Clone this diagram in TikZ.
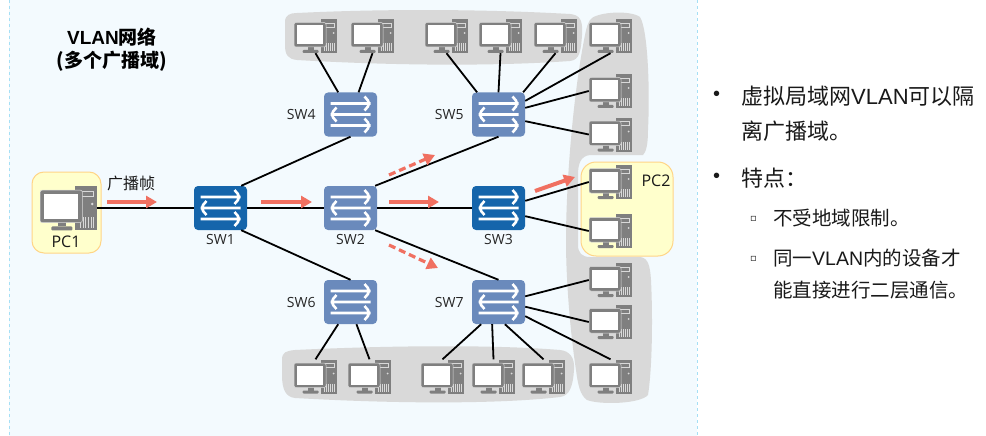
\documentclass[tikz,border=0pt]{standalone}
\usepackage{fontspec}
\setmainfont{Noto Sans CJK SC}
\newfontfamily\symfont{DejaVu Sans}
\newfontfamily\lsf{Liberation Sans}
\newfontfamily\osf{Open Sans}
\usetikzlibrary{positioning,arrows.meta}
\definecolor{panelbg}{HTML}{F3FAFE}
\definecolor{paneledge}{HTML}{A5DFF5}
\definecolor{blobgray}{HTML}{D9D9D9}
\definecolor{pcgray}{HTML}{7F7F7F}
\definecolor{swdark}{HTML}{1565AB}
\definecolor{swlight}{HTML}{6A8ABC}
\definecolor{flowred}{HTML}{F07061}
\definecolor{boxfill}{HTML}{FFFFCC}
\definecolor{boxedge}{HTML}{FFD587}
\newcommand{\pcicon}[1]{
\begin{scope}[shift={(path picture bounding box.center)},x=#1pt,y=-#1pt]
\fill[pcgray] (5,-17) rectangle (21.5,17);
\draw[blobgray,line width=.5pt] (8,-13) rectangle (19,-9);
\fill[blobgray] (18,-3) circle (1);
\foreach \gx in {9,11,13,15,17,19} {\draw[blobgray,line width=.6pt] (\gx,7) -- (\gx,15);}
\fill[pcgray] (-8,10) rectangle (-2,14);
\fill[pcgray,rounded corners=1pt] (-13,14) rectangle (3,17);
\filldraw[fill=pcgray,draw=blobgray,line width=.5pt,rounded corners=2pt] (-21.5,-13.5) rectangle (10.5,11);
\fill[white] (-18.5,-10.5) rectangle (7.5,8);
\end{scope}
}
\newcommand{\swicon}{
\begin{scope}[shift={(path picture bounding box.center)},x=1pt,y=-1pt,white,line width=2.6pt]
\draw (-20,-11) -- (20,-11) (14,-18) -- (20,-11) -- (14,-4);
\draw (20,0) -- (-20,0) (-14,-7) -- (-20,0) -- (-14,7);
\draw (-20,11) -- (20,11) (14,4) -- (20,11) -- (14,18);
\end{scope}
}
\begin{document}
\begin{tikzpicture}
[x=1pt,y=-1pt,node distance=4pt,
pcnode/.style={minimum width=43pt,minimum height=34pt,inner sep=0pt,path picture={\pcicon{1}}},
bigpc/.style={minimum width=57pt,minimum height=44pt,inner sep=0pt,path picture={\pcicon{1.32}}},
swnode/.style={minimum width=53pt,minimum height=44pt,inner sep=0pt,fill=#1,rounded corners=4pt,path picture={\swicon}},
swnode/.default=swlight,
swname/.style={inner sep=0pt,font=\osf\fontsize{14}{14}\selectfont,text=black!85},
pcname/.style={inner sep=0pt,font=\osf\fontsize{16}{16}\selectfont,text=black!90},
link/.style={line width=1.8pt,black},
flow/.style={line width=4pt,flowred,-{Triangle[length=11pt,width=12pt]}},
dashflow/.style={line width=3.2pt,flowred,dash pattern=on 7pt off 4pt,-{Triangle[length=11pt,width=12pt]}},
blob/.style={fill=blobgray},
yellowbox/.style={fill=boxfill,draw=boxedge,line width=1pt},
bodytext/.style={anchor=west,inner sep=0pt,text=black!90,font=\fontsize{#1}{#1}\selectfont}]

\useasboundingbox (0,0) rectangle (986,436);
\fill[white] (0,0) rectangle (986,436);
\fill[panelbg] (9,0) rectangle (697,436);
\draw[paneledge,line width=1pt,dashed] (9,0) -- (9,436);
\draw[paneledge,line width=1pt,dashed] (697,0) -- (697,436);

\fill[blob] (285,22) .. controls (285,15) and (290,13) .. (297,13) .. controls (400,8) and (500,10) .. (570,14) .. controls (580,15) and (583,20) .. (582,35) .. controls (581,50) and (580,60) .. (570,61) .. controls (500,66) and (400,66) .. (297,60) .. controls (288,59) and (285,55) .. (285,45) -- cycle;
\fill[blob] (282,360) .. controls (282,352) and (286,351) .. (295,350) .. controls (400,345) and (500,345) .. (560,350) .. controls (570,351) and (575,358) .. (574,370) .. controls (573,385) and (570,396) .. (560,397) .. controls (500,404) and (400,404) .. (295,398) .. controls (286,397) and (282,390) .. (282,375) -- cycle;
\fill[blob] (592,18) .. controls (600,12) and (630,10) .. (640,17) .. controls (648,30) and (650,90) .. (648,130) .. controls (648,145) and (646,152) .. (643,155) -- (590,155) .. controls (580,156) and (578,165) .. (578,175) -- (578,245) .. controls (578,253) and (582,257) .. (590,257) -- (640,257) .. controls (648,258) and (650,265) .. (651,280) .. controls (653,320) and (652,370) .. (648,395) .. controls (640,404) and (600,405) .. (587,400) .. controls (580,395) and (578,385) .. (576,370) .. controls (570,330) and (566,280) .. (566,240) .. controls (566,190) and (572,100) .. (585,35) .. controls (587,25) and (589,20) .. (592,18) -- cycle;
\draw[yellowbox,rounded corners=12pt] (32,172) rectangle (101,253);
\draw[yellowbox,rounded corners=15pt] (581,162) rectangle (673,256);

\node[bigpc] (pc1) at(68.5,208){};
\node[pcname] (pc1name) at(66,242){PC1};
\node[pcnode] (pc2a) at(610.5,182){};
\node[pcnode] (pc2b) at(610.5,231){};
\node[pcname] (pc2name) at(656,181){PC2};

\node[swnode=swdark] (sw1) at(220.5,208){};
\node[swnode] (sw2) at(350.5,208){};
\node[swnode=swdark] (sw3) at(498.5,208){};
\node[swnode] (sw4) at(350.5,114.5){};
\node[swnode] (sw5) at(498.5,114.5){};
\node[swnode] (sw6) at(350.5,302){};
\node[swnode] (sw7) at(498.5,302){};
\node[swname,below=of sw1] (sw1name) {SW1};
\node[swname,below=of sw2] (sw2name) {SW2};
\node[swname,below=of sw3] (sw3name) {SW3};
\node[swname,left=8pt of sw4] (sw4name) {SW4};
\node[swname,left=8pt of sw5] (sw5name) {SW5};
\node[swname,left=8pt of sw6] (sw6name) {SW6};
\node[swname,left=8pt of sw7] (sw7name) {SW7};

\node[pcnode] (t1) at(315.5,36){};
\node[pcnode] (t2) at(372.5,36){};
\node[pcnode] (t3) at(446.5,36){};
\node[pcnode] (t4) at(500.5,36){};
\node[pcnode] (t5) at(555.5,36){};
\node[pcnode] (r1) at(610.5,36){};
\node[pcnode] (r2) at(610.5,91){};
\node[pcnode] (r3) at(610.5,134.5){};
\node[pcnode] (r4) at(610.5,280){};
\node[pcnode] (r5) at(610.5,322){};
\node[pcnode] (r6) at(610.5,376.5){};
\node[pcnode] (b1) at(315.5,376.5){};
\node[pcnode] (b2) at(369.5,376.5){};
\node[pcnode] (b3) at(442.5,376.5){};
\node[pcnode] (b4) at(493.5,376.5){};
\node[pcnode] (b5) at(543.5,376.5){};

\draw[link] (pc1.east) -- (sw1.west);
\draw[link] (sw1.east) -- (sw2.west);
\draw[link] (sw2.east) -- (sw3.west);
\draw[link] (sw1.47) -- (sw4.south);
\draw[link] (sw1.-47) -- (sw6.north);
\draw[link] (sw2.42) -- (sw5.south);
\draw[link] (sw2.-42) -- (sw7.north);
\draw[link] (t1.south) -- (sw4.119);
\draw[link] (t2.south) -- (sw4.70);
\draw[link] (t3.south) -- (sw5.134);
\draw[link] (t4.south) -- (sw5.90);
\draw[link] (t5.south) -- (sw5.42);
\draw[link] (r1.south) -- (sw5.27);
\draw[link] (r2.west) -- (sw5.14);
\draw[link] (r3.west) -- (sw5.-14);
\draw[link] (sw3.15) -- (pc2a.west);
\draw[link] (sw3.-17) -- (pc2b.west);
\draw[link] (b1.north) -- (sw6.-119);
\draw[link] (b2.north) -- (sw6.-75);
\draw[link] (b3.north) -- (sw7.-128);
\draw[link] (b4.north) -- (sw7.-106);
\draw[link] (b5.north) -- (sw7.-74);
\draw[link] (sw7.12) -- (r4.west);
\draw[link] (sw7.-10) -- (r5.west);
\draw[link] (sw7.-28) -- (r6.north);

\coordinate (f1a) at(107,202);
\coordinate (f1b) at(157,202);
\coordinate (f2a) at(261,202);
\coordinate (f2b) at(312,202);
\coordinate (f3a) at(389,202);
\coordinate (f3b) at(439,202);
\coordinate (f4a) at(389,175);
\coordinate (f4b) at(435,155);
\coordinate (f5a) at(389,245);
\coordinate (f5b) at(438,268);
\coordinate (f6a) at(535,191);
\coordinate (f6b) at(575,177);
\draw[flow] (f1a) -- (f1b);
\draw[flow] (f2a) -- (f2b);
\draw[flow] (f3a) -- (f3b);
\draw[flow] (f6a) -- (f6b);
\draw[dashflow] (f4a) -- (f4b);
\draw[dashflow] (f5a) -- (f5b);

\node[inner sep=0pt,font=\fontsize{16}{16}\selectfont,text=black!90] (framename) at(131,183){广播帧};
\node[inner sep=0pt,align=center,font=\fontsize{19}{23}\bfseries\selectfont] (title) at(112,50){{\lsf\bfseries VLAN}网络\\(多个广播域)};

\node[bodytext=20] (dot1) at(713,96){\lsf •};
\node[bodytext=22] (line1) at(741,96){虚拟局域网{\lsf VLAN}可以隔};
\node[bodytext=22] (line2) at(741,131){离广播域。};
\node[bodytext=20] (dot2) at(713,178){\lsf •};
\node[bodytext=22] (line3) at(741,178){特点：};
\node[bodytext=10] (sq1) at(750,219){\symfont ▫};
\node[bodytext=19.5] (line4) at(773,218){不受地域限制。};
\node[bodytext=10] (sq2) at(750,259){\symfont ▫};
\node[bodytext=19.5] (line5) at(773,258){同一{\lsf VLAN}内的设备才};
\node[bodytext=19.5] (line6) at(773,290){能直接进行二层通信。};
\end{tikzpicture}
\end{document}
